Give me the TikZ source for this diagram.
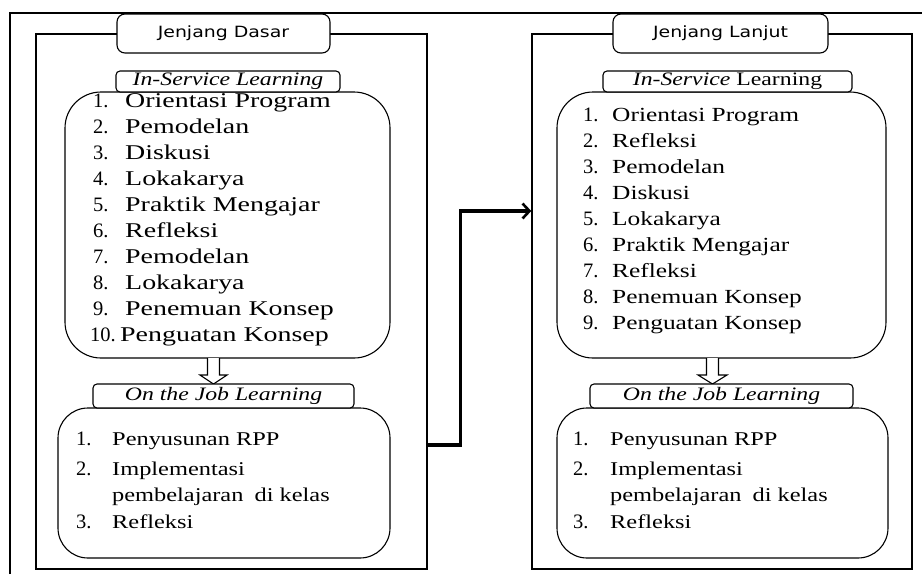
\documentclass[tikz,border=0pt]{standalone}
\usepackage{fontspec}
\setmainfont{Liberation Serif}[FakeStretch=1.25]
\newfontfamily\leftfont{Liberation Serif}[FakeStretch=1.33]
\newfontfamily\rightfont{Liberation Serif}[FakeStretch=1.27]
\newfontfamily\numfont{Liberation Serif}
\newfontfamily\titlefont{DejaVu Sans}[FakeStretch=1.22]
\usetikzlibrary{arrows.meta,calc}
\begin{document}
\begin{tikzpicture}[x=1pt,y=-1pt,
  frame/.style={draw, line width=1.4pt, inner sep=0pt},
  titlebox/.style={draw, fill=white, rounded corners=8pt, line width=1.1pt, inner sep=0pt,
    font=\titlefont\fontsize{15.5}{18}\selectfont},
  listbox/.style={draw, line width=1.1pt, inner sep=0pt},
  labelbox/.style={draw, fill=white, rounded corners=4pt, line width=1.1pt, inner sep=0pt,
    font=\fontsize{19}{22}\selectfont},
  item/.style={anchor=base west, inner sep=0pt, font=\fontsize{19.5}{22}\selectfont},
  litem/.style={anchor=base west, inner sep=0pt, font=\leftfont\fontsize{21}{24}\selectfont},
  ritem/.style={anchor=base west, inner sep=0pt, font=\rightfont\fontsize{20}{24}\selectfont},
  num/.style={anchor=base west, inner sep=0pt, font=\numfont\fontsize{20.5}{24}\selectfont},
  conn/.style={line width=3.2pt, -{Straight Barb[length=7pt,width=15pt,line width=2.6pt]}},
  hollow/.style={draw, line width=1.1pt, fill=white}
]
\useasboundingbox (0,0) rectangle (922,574);

% outer partial frame
\draw[line width=1.3pt] (10,574) -- (10,13) -- (922,13);

% panel frames
\node[frame, minimum width=391pt, minimum height=535pt] (fL) at (231.5,301.5) {};
\node[frame, minimum width=380pt, minimum height=535pt] (fR) at (722,301.5) {};

% titles
\node[titlebox, minimum width=213pt, minimum height=39pt] (tL) at (223.5,33.5) {Jenjang Dasar};
\node[titlebox, minimum width=215pt, minimum height=39pt] (tR) at (720.5,33.5) {Jenjang Lanjut};

% In-service list boxes
\node[listbox, rounded corners=36pt, minimum width=325pt, minimum height=266pt] (isL) at (227.5,225) {};
\node[listbox, rounded corners=36pt, minimum width=329pt, minimum height=266pt] (isR) at (721.5,225) {};

% labels
\node[labelbox, minimum width=224pt, minimum height=21pt] (islL) at (228,81.5) {\textit{In-Service Learning}};
\node[labelbox, minimum width=249pt, minimum height=21pt] (islR) at (727.5,81.5) {\textit{In-Service} Learning};

% OJL list boxes
\node[listbox, rounded corners=30pt, minimum width=332pt, minimum height=150pt] (ojL) at (224,483) {};
\node[listbox, rounded corners=30pt, minimum width=331pt, minimum height=150pt] (ojR) at (722.5,483) {};

% hollow down arrows
\draw[hollow] (207.5,358) -- (207.5,375) -- (200,375) -- (213.5,384) -- (227,375) -- (219.5,375) -- (219.5,358);
\draw[hollow] (706.5,358) -- (706.5,375) -- (698,375) -- (712.5,384) -- (727,375) -- (718.5,375) -- (718.5,358);

% OJL labels
\node[labelbox, minimum width=261pt, minimum height=24pt] (ojlL) at (223.5,396) {\textit{On the Job Learning}};
\node[labelbox, minimum width=263pt, minimum height=24pt] (ojlR) at (721.5,396) {\textit{On the Job Learning}};

% left in-service items
\foreach \t [count=\i] in {Orientasi Program, Pemodelan, Diskusi, Lokakarya, Praktik Mengajar, Refleksi, Pemodelan, Lokakarya, Penemuan Konsep} {
  \node[num] (lin\i) at (93,{107+26*(\i-1)}) {\i.};
  \node[litem] (lit\i) at (125,{107+26*(\i-1)}) {\t};
}
\node[num] (lin10) at (90,341) {10.};
\node[litem] (lit10) at (120,341) {Penguatan Konsep};

% right in-service items
\foreach \t [count=\i] in {Orientasi Program, Refleksi, Pemodelan, Diskusi, Lokakarya, Praktik Mengajar, Refleksi, Penemuan Konsep, Penguatan Konsep} {
  \node[num] (rin\i) at (583,{121+26.1*(\i-1)}) {\i.};
  \node[ritem] (rit\i) at (612,{121+26.1*(\i-1)}) {\t};
}

% OJL items left
\node[num] (ljn1) at (76,445) {1.};
\node[item] (ljt1) at (112,445) {Penyusunan RPP};
\node[num] (ljn2) at (76,475) {2.};
\node[item] (ljt2) at (112,475) {Implementasi};
\node[item] (ljt2b) at (112,501) {pembelajaran\hspace{5pt} di kelas};
\node[num] (ljn3) at (76,528) {3.};
\node[item] (ljt3) at (112,528) {Refleksi};

% OJL items right
\node[num] (rjn1) at (573,445) {1.};
\node[item] (rjt1) at (610,445) {Penyusunan RPP};
\node[num] (rjn2) at (573,475) {2.};
\node[item] (rjt2) at (610,475) {Implementasi};
\node[item] (rjt2b) at (610,501) {pembelajaran\hspace{5pt} di kelas};
\node[num] (rjn3) at (573,528) {3.};
\node[item] (rjt3) at (610,528) {Refleksi};

% connector
\draw[conn] ([yshift=-143.5pt]fL.east) -- ++(33,0) |- ([yshift=90.5pt]fR.west);
\end{tikzpicture}
\end{document}
